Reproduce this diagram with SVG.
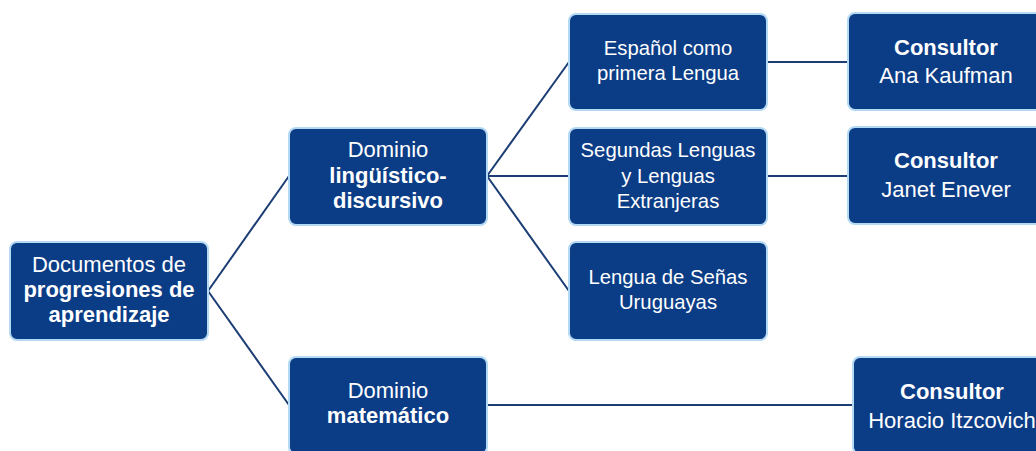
<svg xmlns="http://www.w3.org/2000/svg" width="1036" height="451" viewBox="0 0 1036 451">
<style>
.box{fill:#0b3c86;stroke:#b3daf2;stroke-width:2}
.t{font-family:"Liberation Sans",Arial,sans-serif;font-size:20.3px;fill:#ffffff;text-anchor:middle}
.r{font-size:22px}
.d{font-size:22px}
.k{font-size:22px}
.b{font-weight:700}
.c{fill:none;stroke:#1c3d74;stroke-width:2}
</style>
<rect width="1036" height="451" fill="#ffffff"/>
<g id="connectors">
<path class="c" d="M208 291 L289 176"/>
<path class="c" d="M208 291 L289 405"/>
<path class="c" d="M487 176 L569 62"/>
<path class="c" d="M487 176 L569 176"/>
<path class="c" d="M487 176 L569 291"/>
<path class="c" d="M767 62 L848 62"/>
<path class="c" d="M767 176 L848 176"/>
<path class="c" d="M487 405 L853 405"/>
</g>
<g id="root">
<rect class="box" x="10" y="242" width="198" height="98" rx="7"/>
<text class="t r" x="109" y="272">Documentos de</text>
<text class="t r b" x="109" y="297">progresiones de</text>
<text class="t r b" x="109" y="322">aprendizaje</text>
</g>
<g id="dominio-linguistico">
<rect class="box" x="289" y="128" width="198" height="97" rx="7"/>
<text class="t d" x="388" y="157">Dominio</text>
<text class="t d b" x="388" y="183">lingüístico-</text>
<text class="t d b" x="388" y="208">discursivo</text>
</g>
<g id="espanol">
<rect class="box" x="569" y="14" width="198" height="96" rx="7"/>
<text class="t" x="668" y="55">Español como</text>
<text class="t" x="668" y="80">primera Lengua</text>
</g>
<g id="segundas">
<rect class="box" x="569" y="128" width="198" height="97" rx="7"/>
<text class="t" x="668" y="157">Segundas Lenguas</text>
<text class="t" x="668" y="183">y Lenguas</text>
<text class="t" x="668" y="208">Extranjeras</text>
</g>
<g id="senas">
<rect class="box" x="569" y="242" width="198" height="98" rx="7"/>
<text class="t" x="668" y="284">Lengua de Señas</text>
<text class="t" x="668" y="309">Uruguayas</text>
</g>
<g id="consultor-kaufman">
<rect class="box" x="848" y="13" width="196" height="97" rx="7"/>
<text class="t k b" x="946" y="55">Consultor</text>
<text class="t k" x="946" y="83">Ana Kaufman</text>
</g>
<g id="consultor-enever">
<rect class="box" x="848" y="127" width="196" height="97" rx="7"/>
<text class="t k b" x="946" y="168">Consultor</text>
<text class="t k" x="946" y="197">Janet Enever</text>
</g>
<g id="dominio-matematico">
<rect class="box" x="289" y="357" width="198" height="97" rx="7"/>
<text class="t d" x="388" y="398">Dominio</text>
<text class="t d b" x="388" y="423">matemático</text>
</g>
<g id="consultor-itzcovich">
<rect class="box" x="853" y="357" width="198" height="97" rx="7"/>
<text class="t k b" x="952" y="399">Consultor</text>
<text class="t k" x="952" y="428">Horacio Itzcovich</text>
</g>
</svg>
